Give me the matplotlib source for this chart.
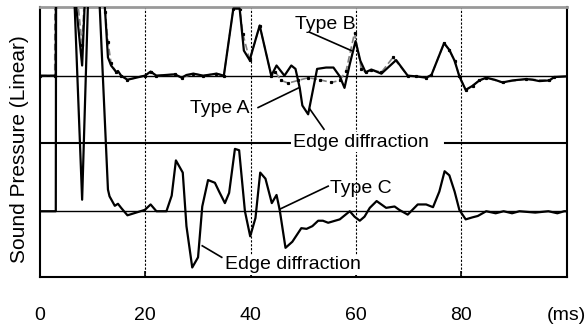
import matplotlib
matplotlib.use("Agg")
import matplotlib.pyplot as plt

plt.rcParams['font.family'] = ['Liberation Sans', 'DejaVu Sans']

# time axis (ms) and responses
# lower panel: Type C (baseline 0)
t_c = [0, 3.0, 3.2, 6.0, 8.0, 10.0, 11.0, 12.9, 13.2, 14.2, 14.8, 15.4, 16.6, 19.9,
       21.0, 22.1, 24.0, 25.0, 25.8, 27.1, 27.8, 28.9, 30.0, 30.8, 31.9, 33.2, 34.0,
       35.1, 35.9, 37.0, 37.8, 38.9, 39.9, 40.9, 41.8, 42.8, 44.0, 44.9, 45.5, 46.6,
       47.9, 49.6, 50.6, 51.7, 52.8, 53.7, 54.7, 56.9, 58.8, 59.7, 60.7, 61.6, 62.6,
       63.9, 65.7, 67.3, 68.2, 69.8, 71.7, 73.3, 74.6, 75.8, 76.8, 77.7, 78.7, 79.6,
       80.8, 82.1, 83.1, 84.7, 86.5, 88.0, 89.6, 91.0, 94.0, 96.5, 98.2, 99.5, 100]
v_c = [0, 0, 12.0, 4.2, 0.17, 5.4, 3.6, 0.32, 0.22, 0.08, 0.11, 0.05, -0.06, 0.02,
       0.10, 0.0, 0.0, 0.23, 0.75, 0.57, -0.22, -0.83, -0.68, 0.07, 0.46, 0.42, 0.29,
       0.12, 0.27, 0.92, 0.90, 0.0, -0.37, -0.10, 0.57, 0.48, 0.12, 0.24, 0.02, -0.54,
       -0.45, -0.25, -0.26, -0.22, -0.14, -0.14, -0.17, -0.12, 0.0, -0.08, -0.14, -0.08, 0.05,
       0.15, 0.05, 0.07, 0.02, -0.05, 0.10, 0.10, 0.06, 0.29, 0.59, 0.53, 0.29, 0.02,
       -0.12, -0.09, -0.07, 0.0, -0.03, 0.0, -0.03, 0.0, -0.02, 0.0, -0.03, 0.0, 0.0]

# upper panel: Type A (solid), baseline 2
t_a = [0, 3.0, 3.2, 6.0, 8.0, 10.0, 11.0, 12.4, 12.9, 13.5, 14.5, 14.8, 15.4, 16.6,
       19.9, 21.0, 22.1, 25.6, 26.9, 27.8, 29.1, 31.0, 33.5, 34.9, 36.7, 37.9, 38.7,
       39.8, 41.7, 43.9, 44.9, 46.4, 47.7, 48.5, 49.3, 49.8, 50.9, 52.6, 54.3, 55.7,
       56.9, 57.8, 58.8, 59.9, 60.8, 61.8, 62.9, 64.8, 67.6, 69.8, 71.4, 73.3, 74.3,
       76.7, 77.7, 78.7, 79.6, 80.8, 82.1, 83.4, 84.7, 86.3, 87.8, 89.7, 92.3, 93.5,
       94.8, 96.7, 97.6, 100]
v_a = [0, 0, 8.0, 1.7, 0.15, 3.9, 2.5, 0.9, 0.27, 0.15, 0.05, 0.07, 0.0, -0.06,
       0.0, 0.06, 0.0, 0.02, -0.03, 0.01, 0.03, 0.0, 0.03, 0.0, 0.99, 0.99, 0.37,
       0.23, 0.74, 0.0, 0.15, 0.0, 0.15, 0.10, -0.18, -0.44, -0.57, 0.10, 0.12, 0.12,
       -0.01, -0.18, 0.17, 0.51, 0.22, 0.05, 0.09, 0.03, 0.23, 0.0, -0.01, -0.03, 0.01,
       0.48, 0.38, 0.22, -0.01, -0.21, -0.15, -0.07, -0.03, -0.06, -0.10, -0.07, -0.05, -0.06,
       -0.08, -0.07, -0.02, -0.01]

# upper panel: Type B (dashed), baseline 2
t_b = [0, 2.8, 3.0, 6.0, 8.0, 10.0, 11.0, 12.4, 12.9, 13.5, 14.5, 15.4, 16.6, 19.9,
       21.0, 22.1, 25.6, 26.9, 29.1, 31.0, 33.5, 34.9, 36.7, 37.9, 38.5, 39.8, 41.7,
       43.9, 44.7, 45.8, 47.1, 49.0, 50.9, 53.1, 55.3, 56.9, 58.1, 59.7, 61.0, 61.8,
       62.9, 64.8, 67.0, 69.8, 71.4, 73.3, 74.3, 76.7, 77.7, 78.7, 79.6, 80.8, 82.1,
       83.4, 84.7, 87.8, 92.3, 96.7, 97.6, 100]
v_b = [0, 0, 8.0, 2.0, 0.45, 3.9, 2.5, 0.94, 0.5, 0.18, 0.05, 0.0, -0.06, 0.0,
       0.06, 0.0, 0.02, -0.03, 0.03, 0.0, 0.03, 0.0, 0.99, 0.99, 0.62, 0.23, 0.74,
       0.0, 0.05, -0.07, -0.11, -0.07, -0.03, -0.06, -0.10, -0.07, 0.07, 0.63, 0.10, 0.05,
       0.09, 0.05, 0.27, 0.0, -0.01, -0.03, 0.01, 0.48, 0.38, 0.22, -0.01, -0.21, -0.15,
       -0.07, -0.03, -0.10, -0.05, -0.07, -0.02, -0.01]

upper_base = 2.0
tick_vals = [0, 20, 40, 60, 80, 100]
tick_text = ['0', '20', '40', '60', '80', '(ms)']

fig = plt.figure(figsize=(5.88, 3.27), dpi=100)
ax = fig.add_axes([0.068, 0.154, 0.896, 0.826])

# panel reference lines
ax.axhline(upper_base, color='black', lw=1.0, zorder=1)
ax.axhline(0, color='black', lw=1.0, zorder=1)
ax.plot([0, 47.4], [1.0, 1.0], color='black', lw=1.5, zorder=1)
ax.plot([76.8, 100], [1.0, 1.0], color='black', lw=1.5, zorder=1)
for x in [20, 40, 60, 80]:
    ax.axvline(x, color='black', lw=0.8, ls=(0, (2, 1.5)), zorder=1)

# responses
ax.plot(t_b, [upper_base + v for v in v_b], color='0.5', lw=1.2, ls=(0, (4, 2)),
        marker='s', ms=1.3, mfc='black', mec='black', zorder=2)
ax.plot(t_a, [upper_base + v for v in v_a], color='black', lw=1.6, zorder=3)
ax.plot(t_c, v_c, color='black', lw=1.6, zorder=3)

# labels with leader lines
ax.text(54.2, 2.75, 'Type B', fontsize=14, ha='center', va='center')
ax.plot([51.2, 59.1], [2.64, 2.37], color='black', lw=1.2)
ax.text(34.1, 1.51, 'Type A', fontsize=14, ha='center', va='center')
ax.plot([41.4, 49.1], [1.53, 1.82], color='black', lw=1.2)
ax.text(60.85, 1.02, 'Edge diffraction', fontsize=14, ha='center', va='center',
        bbox=dict(facecolor='white', edgecolor='none', pad=1), zorder=4)
ax.plot([51.2, 53.9], [1.51, 1.21], color='black', lw=1.2)
ax.text(60.9, 0.33, 'Type C', fontsize=14, ha='center', va='center')
ax.plot([54.7, 45.5], [0.37, 0.03], color='black', lw=1.2)
ax.text(48.05, -0.79, 'Edge diffraction', fontsize=14, ha='center', va='center',
        bbox=dict(facecolor='white', edgecolor='none', pad=1), zorder=4)
ax.plot([30.8, 34.5], [-0.51, -0.68], color='black', lw=1.2)

ax.set_xlim(0, 100)
ax.set_ylim(-0.965, 3.02)
ax.set_xticks(tick_vals)
ax.set_xticklabels(tick_text, fontsize=14)
ax.set_yticks([])
ax.tick_params(axis='x', direction='in', length=4, width=1.2, pad=22)
for side in ['left', 'right', 'bottom']:
    ax.spines[side].set_linewidth(1.5)
ax.spines['top'].set_color('0.6')
ax.spines['top'].set_linewidth(2)

fig.text(20 / 588, 0.545, 'Sound Pressure (Linear)', rotation=90, fontsize=15,
         ha='center', va='center')

fig.savefig('out.png', dpi=100)
